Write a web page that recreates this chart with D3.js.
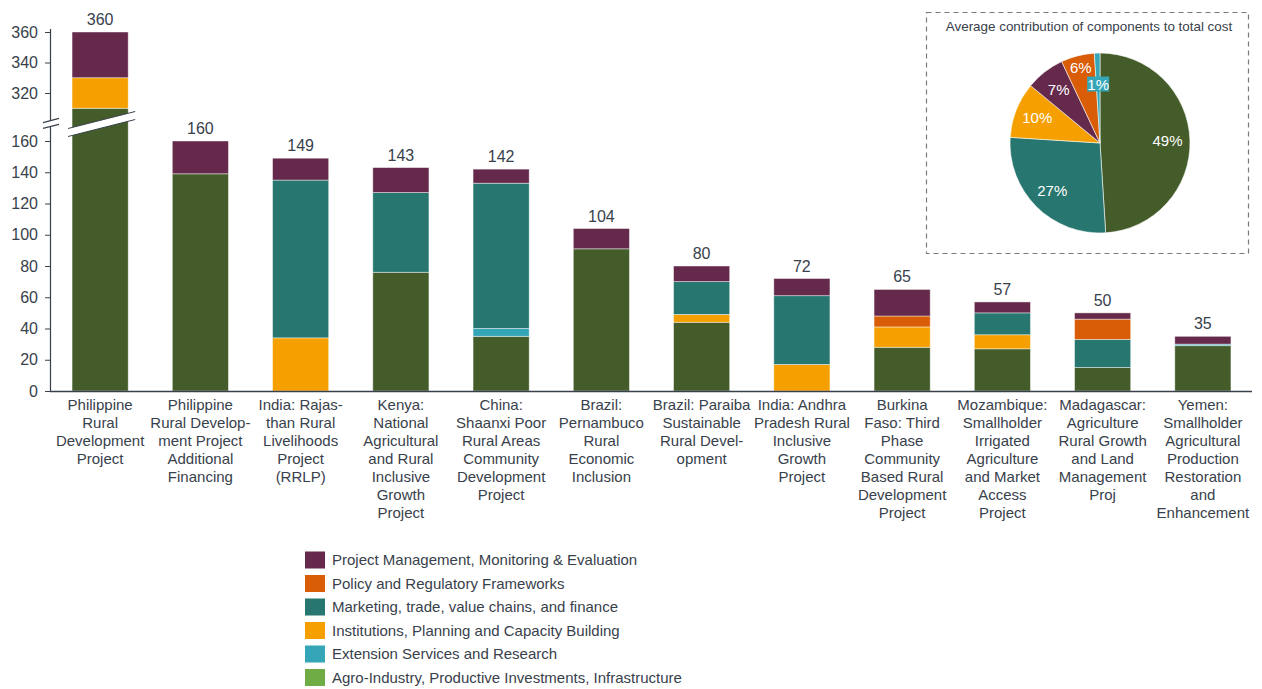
<!DOCTYPE html>
<html>
<head>
<meta charset="utf-8">
<script src="https://cdn.jsdelivr.net/npm/d3@7/dist/d3.min.js"></script>
<style>
  html, body { margin: 0; padding: 0; background: #fff; }
  svg { display: block; font-family: "Liberation Sans", Arial, sans-serif; }
</style>
</head>
<body>
<svg id="chart" width="1262" height="689"></svg>
<script>
// Project names, one entry per line of the axis label
const projects = [
  ["Philippine", "Rural", "Development", "Project"],
  ["Philippine", "Rural Develop-", "ment Project", "Additional", "Financing"],
  ["India: Rajas-", "than Rural", "Livelihoods", "Project", "(RRLP)"],
  ["Kenya:", "National", "Agricultural", "and Rural", "Inclusive", "Growth", "Project"],
  ["China:", "Shaanxi Poor", "Rural Areas", "Community", "Development", "Project"],
  ["Brazil:", "Pernambuco", "Rural", "Economic", "Inclusion"],
  ["Brazil: Paraiba", "Sustainable", "Rural Devel-", "opment"],
  ["India: Andhra", "Pradesh Rural", "Inclusive", "Growth", "Project"],
  ["Burkina", "Faso: Third", "Phase", "Community", "Based Rural", "Development", "Project"],
  ["Mozambique:", "Smallholder", "Irrigated", "Agriculture", "and Market", "Access", "Project"],
  ["Madagascar:", "Agriculture", "Rural Growth", "and Land", "Management", "Proj"],
  ["Yemen:", "Smallholder", "Agricultural", "Production", "Restoration", "and", "Enhancement"]
];

// Component costs per project (stacked bottom to top in this order)
const agroIndustry   = [310, 139,   0, 76, 35, 91, 44,  0, 28, 27, 15, 29];
const extension      = [  0,   0,   0,  0,  5,  0,  0,  0,  0,  0,  0,  1];
const institutions   = [ 20,   0,  34,  0,  0,  0,  5, 17, 13,  9,  0,  0];
const marketing      = [  0,   0, 101, 51, 93,  0, 21, 44,  0, 14, 18,  0];
const policy         = [  0,   0,   0,  0,  0,  0,  0,  0,  7,  0, 13,  0];
const projectMgmt    = [ 30,  21,  14, 16,  9, 13, 10, 11, 17,  7,  4,  5];

// Axis tick values for the lower and upper (broken) segments
const lowerTicks = [0, 20, 40, 60, 80, 100, 120, 140, 160];
const upperTicks = [320, 340, 360];

// Average share of each component in total cost (%)
const pieKeys   = ["agro", "marketing", "institutions", "pm", "policy", "extension"];
const pieShares = [49, 27, 10, 7, 6, 1];

// Legend entries, top to bottom
const legendKeys = ["pm", "policy", "marketing", "institutions", "extension", "agro"];
const legendLabels = [
  "Project Management, Monitoring & Evaluation",
  "Policy and Regulatory Frameworks",
  "Marketing, trade, value chains, and finance",
  "Institutions, Planning and Capacity Building",
  "Extension Services and Research",
  "Agro-Industry, Productive Investments, Infrastructure"
];

const colors = {
  agro: "#445c2a",
  extension: "#35a6b8",
  institutions: "#f5a000",
  marketing: "#277670",
  policy: "#d95c07",
  pm: "#652a4b"
};
const swatchColors = Object.assign({}, colors, { agro: "#6fac46" });
const textColor = "#38414b";

const stackKeys = ["agro", "extension", "institutions", "marketing", "policy", "pm"];
const series = { agro: agroIndustry, extension, institutions, marketing, policy, pm: projectMgmt };
const rows = projects.map((p, i) => {
  const r = { name: p.join(" "), idx: i };
  stackKeys.forEach(k => r[k] = series[k][i]);
  r.total = stackKeys.reduce((s, k) => s + r[k], 0);
  return r;
});

const svg = d3.select("#chart");

// ---- scales ----
const x = d3.scaleBand()
  .domain(rows.map(r => r.idx))
  .range([50, 1253])
  .paddingInner(0.44)
  .paddingOuter(0.22);

const yLow = d3.scaleLinear().domain([0, 160]).range([391, 141]);
const yHigh = d3.scaleLinear().domain([320, 360]).range([93, 32]);
const breakValue = 200;
const y = v => (v <= breakValue ? yLow(v) : yHigh(v));

// ---- stacked bars ----
const stacked = d3.stack().keys(stackKeys)(rows);

svg.append("g").selectAll("g")
  .data(stacked)
  .join("g")
  .attr("fill", d => colors[d.key])
  .selectAll("rect")
  .data(d => d.filter(s => s[1] - s[0] > 0))
  .join("rect")
  .attr("x", d => x(d.data.idx))
  .attr("width", x.bandwidth())
  .attr("y", d => y(d[1]))
  .attr("height", d => y(d[0]) - y(d[1]))
  .attr("stroke", "rgba(255,255,255,0.55)")
  .attr("stroke-width", 0.8);

// Break band across the tallest bar
const tallest = rows.reduce((a, b) => (b.total > a.total ? b : a));
const breakY = 124;
const bx0 = x(tallest.idx) - 4;
const bx1 = x(tallest.idx) + x.bandwidth() + 7;
const rise = 8.5, half = 4;
svg.append("path")
  .attr("d", `M${bx0},${breakY + rise + half} L${bx1},${breakY - rise + half} L${bx1},${breakY - rise - half} L${bx0},${breakY + rise - half} Z`)
  .attr("fill", "#fff");
[half, -half].forEach(o => {
  svg.append("line")
    .attr("x1", bx0).attr("y1", breakY + rise + o)
    .attr("x2", bx1).attr("y2", breakY - rise + o)
    .attr("stroke", "#3a424c").attr("stroke-width", 1);
});

// Total labels
svg.append("g").selectAll("text")
  .data(rows)
  .join("text")
  .attr("x", d => x(d.idx) + x.bandwidth() / 2)
  .attr("y", d => y(d.total) - 7)
  .attr("text-anchor", "middle")
  .attr("font-size", 16)
  .attr("fill", textColor)
  .text(d => d.total);

// ---- axes ----
const axisColor = "#38414b";
const lowAxis = svg.append("g").attr("transform", "translate(50,0)")
  .call(d3.axisLeft(yLow).tickValues(lowerTicks).tickSize(5).tickPadding(7));
const highAxis = svg.append("g").attr("transform", "translate(50,0)")
  .call(d3.axisLeft(yHigh).tickValues(upperTicks).tickSize(5).tickPadding(7));
[lowAxis, highAxis].forEach(g => {
  g.select(".domain").remove();
  g.selectAll("line").attr("stroke", axisColor);
  g.selectAll("text").attr("font-size", 16).attr("fill", textColor).attr("font-family", null);
});
svg.append("line").attr("x1", 50.5).attr("x2", 50.5).attr("y1", 126.5).attr("y2", 391)
  .attr("stroke", axisColor).attr("stroke-width", 1.2);
svg.append("line").attr("x1", 50.5).attr("x2", 50.5).attr("y1", 29).attr("y2", 120.5)
  .attr("stroke", axisColor).attr("stroke-width", 1.2);
[[122.7, 118.3], [128.3, 124.3]].forEach(([a, b]) => {
  svg.append("line").attr("x1", 43).attr("y1", a).attr("x2", 59).attr("y2", b)
    .attr("stroke", axisColor).attr("stroke-width", 1.2);
});

// x baseline
svg.append("line").attr("x1", 50).attr("x2", 1252).attr("y1", 391.5).attr("y2", 391.5)
  .attr("stroke", axisColor).attr("stroke-width", 1.5);

// Project name labels
const xl = svg.append("g").selectAll("text")
  .data(rows)
  .join("text")
  .attr("text-anchor", "middle")
  .attr("font-size", 15)
  .attr("fill", textColor)
  .attr("transform", d => `translate(${x(d.idx) + x.bandwidth() / 2},410)`);
xl.selectAll("tspan")
  .data(d => projects[d.idx])
  .join("tspan")
  .attr("x", 0)
  .attr("y", (d, i) => i * 18)
  .text(d => d);

// ---- legend ----
const legend = svg.append("g").attr("transform", "translate(305,0)");
const lg = legend.selectAll("g")
  .data(legendKeys)
  .join("g")
  .attr("transform", (d, i) => `translate(0,${560 + i * 23.5})`);
lg.append("rect").attr("x", 0).attr("y", -8.5).attr("width", 20).attr("height", 17)
  .attr("fill", d => swatchColors[d]);
lg.append("text").attr("x", 27).attr("y", 5).attr("font-size", 15).attr("fill", textColor)
  .text((d, i) => legendLabels[i]);

// ---- pie inset ----
svg.append("rect").attr("x", 926.5).attr("y", 12.5).attr("width", 322).attr("height", 241)
  .attr("fill", "none").attr("stroke", "#7a7a7a").attr("stroke-width", 1.2)
  .attr("stroke-dasharray", "5,4");
svg.append("text").attr("x", 1089).attr("y", 31).attr("text-anchor", "middle")
  .attr("font-size", 13.4).attr("fill", textColor)
  .text("Average contribution of components to total cost");

const pieData = pieKeys.map((k, i) => ({ key: k, value: pieShares[i] }));
const arcs = d3.pie().sort(null).value(d => d.value)(pieData);
const radius = 90;
const pieG = svg.append("g").attr("transform", "translate(1100,143)");
pieG.selectAll("path")
  .data(arcs)
  .join("path")
  .attr("d", d3.arc().innerRadius(0).outerRadius(radius))
  .attr("fill", d => colors[d.data.key])
  .attr("stroke", "rgba(255,255,255,0.7)")
  .attr("stroke-width", 0.8);

// Slice labels; the two smallest slices are spread apart so they do not collide
const labelRadius = d => (d.data.value < 2 ? 0.65 : d.data.value < 6.5 ? 0.86 : 0.75) * radius;
const labelPos = d => {
  const a = (d.startAngle + d.endAngle) / 2;
  const r = labelRadius(d);
  return [Math.sin(a) * r, -Math.cos(a) * r];
};
const lab = pieG.selectAll("g.lab")
  .data(arcs)
  .join("g")
  .attr("class", "lab")
  .attr("transform", d => `translate(${labelPos(d)})`);
lab.filter(d => d.data.value < 2)
  .append("rect").attr("x", -11).attr("y", -8).attr("width", 22).attr("height", 15)
  .attr("fill", d => colors[d.data.key]);
lab.append("text")
  .attr("text-anchor", "middle")
  .attr("dy", "0.35em")
  .attr("font-size", 15)
  .attr("fill", "#fff")
  .text(d => d.data.value + "%");
</script>
</body>
</html>
